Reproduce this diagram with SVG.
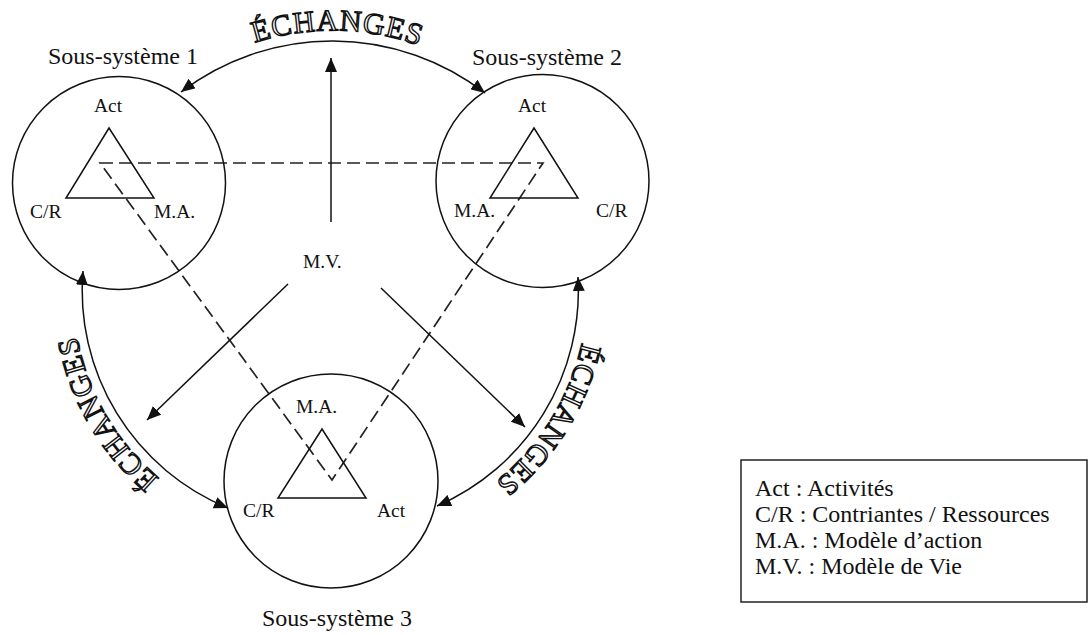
<svg xmlns="http://www.w3.org/2000/svg" width="1089" height="635" viewBox="0 0 1089 635">
<style>
.ln{fill:none;stroke:#111;stroke-width:1.5}
.dash{fill:none;stroke:#222;stroke-width:1.7;stroke-dasharray:13 6}
.lbl{font-family:"Liberation Serif","Times New Roman",serif;font-size:19.5px;fill:#111}
.ttl{font-family:"Liberation Serif","Times New Roman",serif;font-size:24px;fill:#111}
.ech{font-family:"Liberation Serif","Times New Roman",serif;font-size:30px;fill:#fff;stroke:#111;stroke-width:1.4;letter-spacing:1px}
</style>
<defs>
<marker id="ah" markerUnits="userSpaceOnUse" viewBox="0 0 14 12" refX="14" refY="6" markerWidth="14" markerHeight="12" orient="auto-start-reverse">
<path d="M0,0 L14,6 L0,12 z" fill="#111"/>
</marker>
<path id="tpTop" d="M121.2 142 A256 256 0 0 1 543.8 142"/>
<path id="tpLeft" d="M274.6 532.3 A244 244 0 0 1 87.7 208.6"/>
<path id="tpRight" d="M574.3 208.6 A248 248 0 0 1 387.4 532.3"/>
</defs>
<rect width="1089" height="635" fill="#fff"/>

<g id="connectors">
<path class="dash" d="M100 163 L543 163 L332 480 Z"/>
<path class="ln" d="M181 92 A250 250 0 0 1 485 93" marker-start="url(#ah)" marker-end="url(#ah)"/>
<path class="ln" d="M83 271 A235 235 0 0 0 228 508" marker-start="url(#ah)" marker-end="url(#ah)"/>
<path class="ln" d="M578 277 A235 235 0 0 1 437 506" marker-start="url(#ah)" marker-end="url(#ah)"/>
<line class="ln" x1="331" y1="222" x2="331" y2="58" marker-end="url(#ah)"/>
<line class="ln" x1="288" y1="284" x2="147" y2="420" marker-end="url(#ah)"/>
<line class="ln" x1="381" y1="288" x2="525" y2="427" marker-end="url(#ah)"/>
<text class="ech"><textPath href="#tpTop" startOffset="51%" text-anchor="middle">ÉCHANGES</textPath></text>
<text class="ech"><textPath href="#tpLeft" startOffset="50%" text-anchor="middle">ÉCHANGES</textPath></text>
<text class="ech"><textPath href="#tpRight" startOffset="52%" text-anchor="middle">ÉCHANGES</textPath></text>
</g>

<g id="ss1">
<circle class="ln" cx="119" cy="183" r="106.5"/>
<polygon class="ln" points="109,128 66,198 154,198"/>
<text class="ttl" x="48" y="64">Sous-système 1</text>
<text class="lbl" x="94" y="112">Act</text>
<text class="lbl" x="30" y="218">C/R</text>
<text class="lbl" x="154" y="218">M.A.</text>
</g>

<g id="ss2">
<circle class="ln" cx="542.5" cy="181" r="106.5"/>
<polygon class="ln" points="534,128 490,198 578,198"/>
<text class="ttl" x="472" y="65">Sous-système 2</text>
<text class="lbl" x="518" y="112">Act</text>
<text class="lbl" x="454" y="217">M.A.</text>
<text class="lbl" x="596" y="217">C/R</text>
</g>

<g id="ss3">
<circle class="ln" cx="331" cy="481" r="107"/>
<polygon class="ln" points="322,429 278,498 366,498"/>
<text class="ttl" x="262" y="626">Sous-système 3</text>
<text class="lbl" x="296" y="413">M.A.</text>
<text class="lbl" x="243" y="517">C/R</text>
<text class="lbl" x="377" y="517">Act</text>
</g>

<g id="mv">
<text class="lbl" x="303" y="268">M.V.</text>
</g>

<g id="legend">
<rect x="741" y="460" width="346" height="142" fill="#fff" stroke="#222" stroke-width="1.5"/>
<text class="ttl" x="755" y="496">Act : Activités</text>
<text class="ttl" x="755" y="522">C/R : Contriantes / Ressources</text>
<text class="ttl" x="755" y="548">M.A. : Modèle d’action</text>
<text class="ttl" x="755" y="574">M.V. : Modèle de Vie</text>
</g>
</svg>
